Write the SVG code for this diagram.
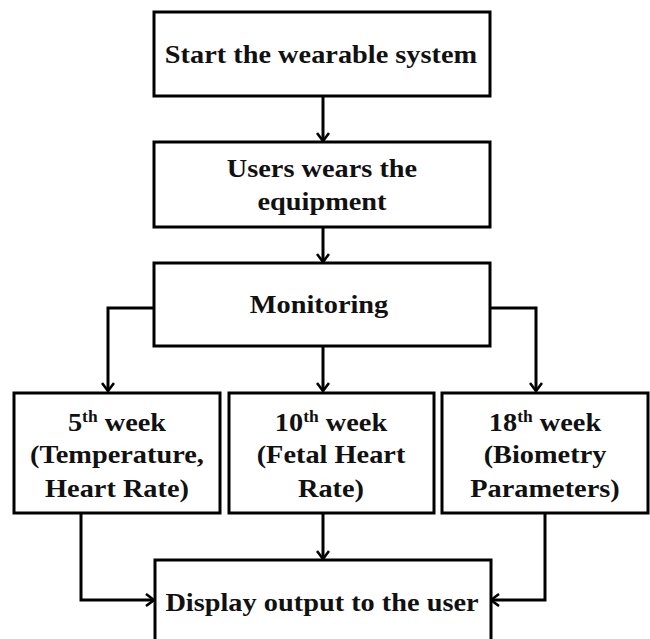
<svg xmlns="http://www.w3.org/2000/svg" width="650" height="639" viewBox="0 0 650 639">
  <style>
    .box { fill: #ffffff; stroke: #000000; stroke-width: 3; }
    .lbl { font-family: "Liberation Serif", "Times New Roman", serif; font-weight: bold; font-size: 26px; fill: #111111; text-anchor: middle; }
    .sup { font-size: 16px; }
    .wire { fill: none; stroke: #000000; stroke-width: 3; }
  </style>
  <defs>
    <marker id="arrow" markerWidth="12" markerHeight="14" refX="10" refY="7" orient="auto" markerUnits="userSpaceOnUse">
      <path d="M2,1 L10,7 L2,13" fill="none" stroke="#000000" stroke-width="2.6"/>
    </marker>
  </defs>
  <rect width="650" height="639" fill="#ffffff"/>

  <g id="connectors">
    <path class="wire" d="M323,96 V141" marker-end="url(#arrow)"/>
    <path class="wire" d="M323,227 V262" marker-end="url(#arrow)"/>
    <path class="wire" d="M154,308 H108 V391" marker-end="url(#arrow)"/>
    <path class="wire" d="M323,346 V391" marker-end="url(#arrow)"/>
    <path class="wire" d="M490,308 H536 V391" marker-end="url(#arrow)"/>
    <path class="wire" d="M81,513 V600 H154" marker-end="url(#arrow)"/>
    <path class="wire" d="M323,513 V559" marker-end="url(#arrow)"/>
    <path class="wire" d="M545,513 V600 H491" marker-end="url(#arrow)"/>
  </g>

  <!-- labels are set slightly wide: translate to the anchor point, then stretch horizontally -->
  <g id="start">
    <rect class="box" x="154" y="12" width="336" height="84"/>
    <text class="lbl" transform="translate(321,63) scale(1.09,1)">Start the wearable system</text>
  </g>

  <g id="wear">
    <rect class="box" x="154" y="142" width="336" height="85"/>
    <text class="lbl" transform="translate(322,177) scale(1.09,1)">Users wears the</text>
    <text class="lbl" transform="translate(322,210) scale(1.09,1)">equipment</text>
  </g>

  <g id="monitoring">
    <rect class="box" x="154" y="263" width="336" height="83"/>
    <text class="lbl" transform="translate(319,313) scale(1.09,1)">Monitoring</text>
  </g>

  <g id="week5">
    <rect class="box" x="14" y="393" width="206" height="120"/>
    <text class="lbl" transform="translate(117,431) scale(1.09,1)">5<tspan class="sup" dy="-9">th</tspan><tspan dy="9"> week</tspan></text>
    <text class="lbl" transform="translate(117,463) scale(1.09,1)">(Temperature,</text>
    <text class="lbl" transform="translate(117,497) scale(1.09,1)">Heart Rate)</text>
  </g>

  <g id="week10">
    <rect class="box" x="229" y="393" width="205" height="120"/>
    <text class="lbl" transform="translate(331,431) scale(1.09,1)">10<tspan class="sup" dy="-9">th</tspan><tspan dy="9"> week</tspan></text>
    <text class="lbl" transform="translate(331,463) scale(1.09,1)">(Fetal Heart</text>
    <text class="lbl" transform="translate(331,497) scale(1.09,1)">Rate)</text>
  </g>

  <g id="week18">
    <rect class="box" x="442" y="393" width="206" height="120"/>
    <text class="lbl" transform="translate(545,431) scale(1.09,1)">18<tspan class="sup" dy="-9">th</tspan><tspan dy="9"> week</tspan></text>
    <text class="lbl" transform="translate(545,463) scale(1.09,1)">(Biometry</text>
    <text class="lbl" transform="translate(545,497) scale(1.09,1)">Parameters)</text>
  </g>

  <g id="display">
    <rect class="box" x="155" y="560" width="336" height="90"/>
    <text class="lbl" transform="translate(322,611) scale(1.09,1)">Display output to the user</text>
  </g>
</svg>
